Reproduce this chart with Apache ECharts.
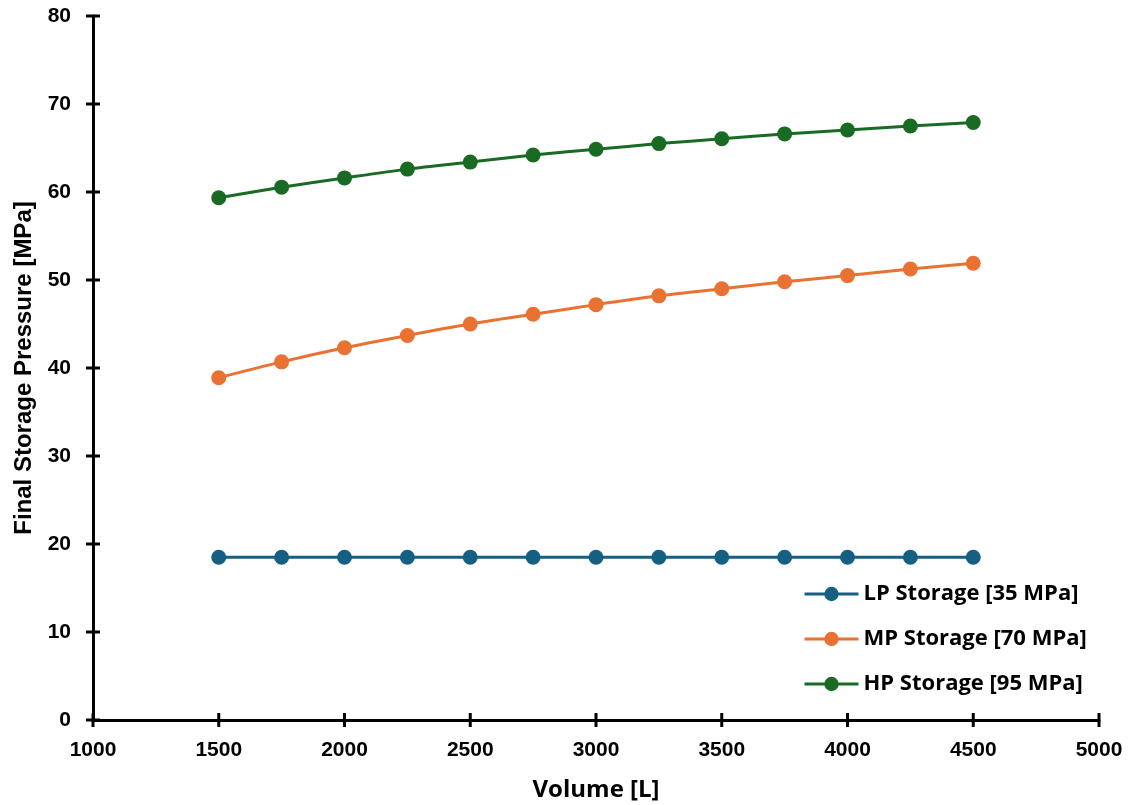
<!DOCTYPE html>
<html>
<head>
<meta charset="utf-8">
<script src="https://cdn.jsdelivr.net/npm/echarts@6/dist/echarts.min.js"></script>
<style>
  html, body { margin: 0; padding: 0; background: #fff; }
  #chart { width: 1128px; height: 805px; }
</style>
</head>
<body>
<div id="chart"></div>
<script>
// Storage volume [L]
const volumes = [1500, 1750, 2000, 2250, 2500, 2750, 3000, 3250, 3500, 3750, 4000, 4250, 4500];
// Final storage pressure [MPa] per storage class
const lpPressure = [18.5, 18.5, 18.5, 18.5, 18.5, 18.5, 18.5, 18.5, 18.5, 18.5, 18.5, 18.5, 18.5];
const mpPressure = [38.9, 40.7, 42.3, 43.7, 45.0, 46.1, 47.2, 48.2, 49.0, 49.8, 50.5, 51.25, 51.9];
const hpPressure = [59.35, 60.55, 61.6, 62.6, 63.4, 64.2, 64.85, 65.5, 66.05, 66.6, 67.05, 67.5, 67.9];
const seriesNames = ['LP Storage [35 MPa]', 'MP Storage [70 MPa]', 'HP Storage [95 MPa]'];
const seriesColors = ['#156082', '#E97132', '#196B24'];
// Axis tick values
const xTicks = [1000, 1500, 2000, 2500, 3000, 3500, 4000, 4500, 5000];
const yTicks = [0, 10, 20, 30, 40, 50, 60, 70, 80];

const pairs = (ys) => volumes.map((v, i) => [v, ys[i]]);

const axisFont = 'Liberation Sans, Arial, sans-serif';
const altFont = 'Open Sans, sans-serif';
const TICK_HALF = 7;

const plainNumber = (v) => String(v);
const axisLineStyle = () => ({ show: true, onZero: false, lineStyle: { color: '#000', width: 3 } });

const dataSeries = [lpPressure, mpPressure, hpPressure].map((ys, k) => ({
  name: seriesNames[k],
  type: 'line',
  smooth: 0.3,
  data: pairs(ys),
  symbol: 'circle',
  symbolSize: 15,
  color: seriesColors[k],
  lineStyle: { width: 3, color: seriesColors[k] },
  itemStyle: { color: seriesColors[k] },
  z: 3
}));

// Tick marks that cross the axis line, placed through the axis scales
function crossTick(horizontalAxis) {
  return function (params, api) {
    const p = api.coord([api.value(0), api.value(1)]);
    const shape = horizontalAxis
      ? { x1: p[0], y1: p[1] - TICK_HALF, x2: p[0], y2: p[1] + TICK_HALF }
      : { x1: p[0] - TICK_HALF, y1: p[1], x2: p[0] + TICK_HALF, y2: p[1] };
    return { type: 'line', shape: shape, style: { stroke: '#000', lineWidth: 3 } };
  };
}

const tickSeries = [
  { type: 'custom', clip: false, silent: true, z: 4, renderItem: crossTick(true),
    data: xTicks.map((v) => [v, yTicks[0]]) },
  { type: 'custom', clip: false, silent: true, z: 4, renderItem: crossTick(false),
    data: yTicks.map((v) => [xTicks[0], v]) }
];

const chart = echarts.init(document.getElementById('chart'));
chart.setOption({
  animation: false,
  backgroundColor: '#fff',
  grid: { left: 93, right: 29, top: 16, bottom: 85, outerBoundsMode: 'none' },
  tooltip: { show: false },
  legend: {
    orient: 'vertical',
    left: 803,
    top: 583,
    padding: 0,
    itemWidth: 54,
    itemHeight: 18,
    itemGap: 23,
    lineStyle: { width: 3 },
    textStyle: { fontFamily: altFont, fontWeight: 'bold', fontSize: 22, color: '#000' },
    data: seriesNames
  },
  xAxis: {
    type: 'value', min: 1000, max: 5000, interval: 500,
    name: 'Volume [L]', nameLocation: 'middle', nameGap: 58,
    nameTextStyle: { fontFamily: altFont, fontWeight: 'bold', fontSize: 24, color: '#000' },
    axisLine: axisLineStyle(),
    axisTick: { show: false },
    axisLabel: { fontFamily: axisFont, fontWeight: 'bold', fontSize: 21, color: '#000', margin: 20, formatter: plainNumber },
    splitLine: { show: false }
  },
  yAxis: {
    type: 'value', min: 0, max: 80, interval: 10,
    name: 'Final Storage Pressure [MPa]', nameLocation: 'middle', nameGap: 57,
    nameTextStyle: { fontFamily: axisFont, fontWeight: 'bold', fontSize: 24, color: '#000' },
    axisLine: axisLineStyle(),
    axisTick: { show: false },
    axisLabel: { fontFamily: axisFont, fontWeight: 'bold', fontSize: 21, color: '#000', margin: 22 },
    splitLine: { show: false }
  },
  series: dataSeries.concat(tickSeries)
});
</script>
</body>
</html>
